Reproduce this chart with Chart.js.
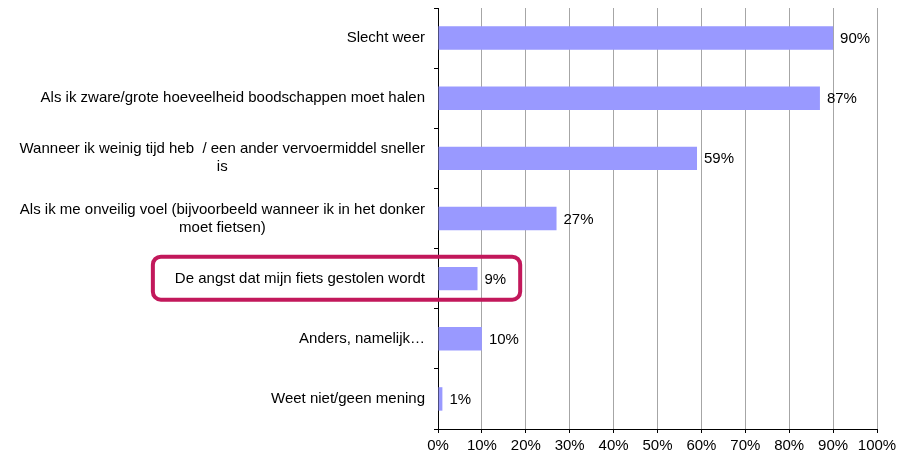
<!DOCTYPE html>
<html>
<head>
<meta charset="utf-8">
<script src="https://cdn.jsdelivr.net/npm/chart.js@4/dist/chart.umd.min.js"></script>
<style>
  html, body { margin: 0; padding: 0; background: #fff; }
  #wrap { width: 908px; height: 455px; }
</style>
</head>
<body>
<div id="wrap"><canvas id="reasons"></canvas></div>
<script>
const categories = [
  "Slecht weer",
  "Als ik zware/grote hoeveelheid boodschappen moet halen",
  ["Wanneer ik weinig tijd heb  / een ander vervoermiddel sneller", "is"],
  ["Als ik me onveilig voel (bijvoorbeeld wanneer ik in het donker", "moet fietsen)"],
  "De angst dat mijn fiets gestolen wordt",
  "Anders, namelijk…",
  "Weet niet/geen mening"
];
const percentages = [90, 87, 59, 27, 9, 10, 1];
const xTicks = [0, 10, 20, 30, 40, 50, 60, 70, 80, 90, 100];
const highlighted = 4;

const FONT = "15px 'Liberation Sans', Arial, sans-serif";

// category labels: right aligned block, lines centred inside the block
const categoryLabels = {
  id: "categoryLabels",
  afterDraw(chart) {
    const ctx = chart.ctx;
    const yScale = chart.scales.y;
    const right = chart.chartArea.left - 13;
    ctx.save();
    ctx.font = FONT;
    ctx.fillStyle = "#000";
    ctx.textAlign = "center";
    ctx.textBaseline = "middle";
    categories.forEach((label, i) => {
      const lines = Array.isArray(label) ? label : [label];
      const w = Math.max(...lines.map(l => ctx.measureText(l).width));
      const cy = yScale.getPixelForValue(i);
      const lh = 18;
      lines.forEach((line, j) => {
        const y = cy + (j - (lines.length - 1) / 2) * lh;
        ctx.fillText(line, right - w / 2, y);
      });
    });
    ctx.restore();
  }
};

const valueLabels = {
  id: "valueLabels",
  afterDatasetsDraw(chart) {
    const ctx = chart.ctx;
    const meta = chart.getDatasetMeta(0);
    ctx.save();
    ctx.font = FONT;
    ctx.fillStyle = "#000";
    ctx.textAlign = "left";
    ctx.textBaseline = "middle";
    meta.data.forEach((bar, i) => {
      ctx.fillText(percentages[i] + "%", bar.x + 7, bar.y + 1);
    });
    ctx.restore();
  }
};

const highlightBox = {
  id: "highlightBox",
  afterDraw(chart) {
    const ctx = chart.ctx;
    const yScale = chart.scales.y;
    const bar = chart.getDatasetMeta(0).data[highlighted];
    ctx.save();
    ctx.font = FONT;
    const labelW = ctx.measureText(categories[highlighted]).width;
    const valW = ctx.measureText(percentages[highlighted] + "%").width;
    const left = chart.chartArea.left - 13 - labelW - 22;
    const right = bar.x + 7 + valW + 14;
    const cy = yScale.getPixelForValue(highlighted);
    const top = cy - 22, h = 43;
    ctx.strokeStyle = "#C2185B";
    ctx.lineWidth = 4;
    ctx.beginPath();
    ctx.roundRect(left, top, right - left, h, 8);
    ctx.stroke();
    ctx.restore();
  }
};

new Chart(document.getElementById("reasons"), {
  type: "bar",
  data: {
    labels: categories,
    datasets: [{
      data: percentages,
      backgroundColor: "#9999FF",
      borderWidth: 0,
      barPercentage: 0.39,
      categoryPercentage: 1
    }]
  },
  options: {
    indexAxis: "y",
    responsive: true,
    maintainAspectRatio: false,
    animation: false,
    layout: { padding: { top: 8, right: 31, left: 0, bottom: 0 } },
    plugins: {
      legend: { display: false },
      tooltip: { enabled: false }
    },
    scales: {
      x: {
        min: 0,
        max: 100,
        afterBuildTicks(scale) {
          scale.ticks = xTicks.map(v => ({ value: v }));
        },
        afterFit(scale) { scale.height = 26; },
        ticks: {
          callback: v => v + "%",
          color: "#000",
          font: { family: "'Liberation Sans', Arial, sans-serif", size: 15 },
          padding: 4,
          maxRotation: 0
        },
        grid: { color: "#a6a6a6", tickColor: "#000", tickLength: 4, lineWidth: 1 },
        border: { color: "#000", width: 1 }
      },
      y: {
        ticks: { display: false },
        afterFit(scale) { scale.width = 438; },
        grid: { offset: true, drawOnChartArea: false, tickColor: "#000", tickLength: 4 },
        border: { color: "#000", width: 1 }
      }
    }
  },
  plugins: [categoryLabels, valueLabels, highlightBox]
});
</script>
</body>
</html>
